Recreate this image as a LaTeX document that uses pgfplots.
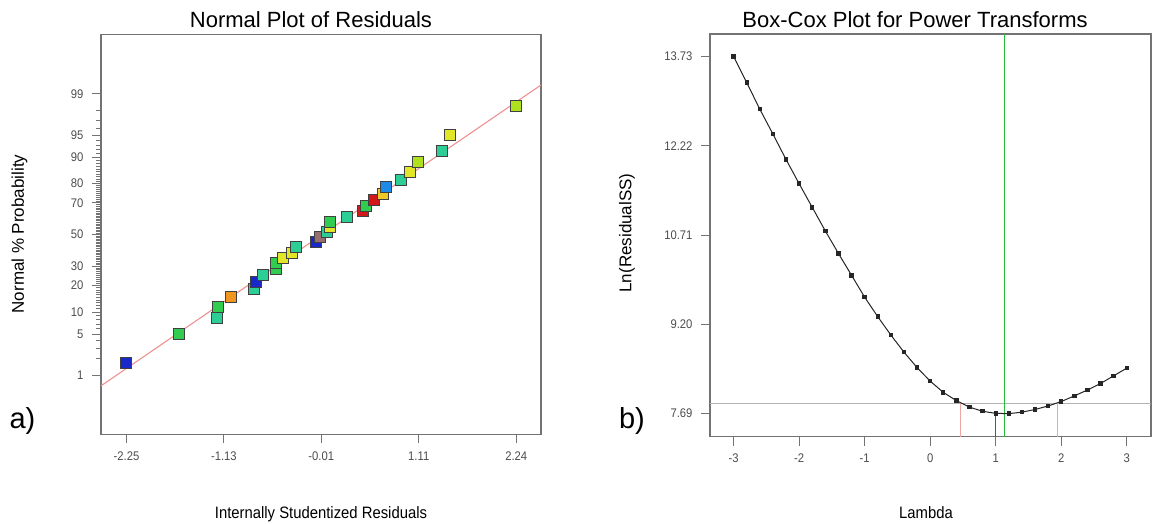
\documentclass[border=0pt]{standalone}
\usepackage{pgfplots}
\usepackage{pgfplotstable}
\pgfplotsset{compat=1.18}
\usepackage{fontspec}
\setmainfont{Liberation Sans}
\newfontfamily\narrowfont[FakeStretch=0.9]{Liberation Sans}

\definecolor{cNv}{RGB}{25,40,200}
\definecolor{cGr}{RGB}{50,205,80}
\definecolor{cTl}{RGB}{45,205,150}
\definecolor{cYe}{RGB}{225,230,40}
\definecolor{cYg}{RGB}{175,225,30}
\definecolor{cOr}{RGB}{240,150,30}
\definecolor{cGo}{RGB}{240,200,40}
\definecolor{cRd}{RGB}{210,25,25}
\definecolor{cLb}{RGB}{30,140,230}
\definecolor{cBr}{RGB}{150,110,110}
\definecolor{fitline}{RGB}{238,145,145}
\definecolor{frameg}{RGB}{115,115,115}
\definecolor{pinkl}{RGB}{240,165,165}
\definecolor{bluel}{RGB}{70,70,225}
\definecolor{greenl}{RGB}{40,190,60}

\pgfplotstableread{
x z c
-2.250 -2.128 nv
-1.642 -1.645 gr
-1.206 -1.383 tl
-1.186 -1.192 gr
-1.038 -1.036 or
-0.779 -0.903 tl
-0.759 -0.783 nv
-0.668 -0.674 tl
-0.529 -0.573 gr
-0.529 -0.477 gr
-0.446 -0.385 ye
-0.340 -0.297 ye
-0.294 -0.210 tl
-0.064 -0.126 nv
-0.019 -0.042 br
0.059 0.042 tl
0.092 0.126 ye
0.092 0.210 gr
0.289 0.297 tl
0.482 0.385 rd
0.507 0.477 gr
0.605 0.573 rd
0.704 0.674 go
0.737 0.783 lb
0.918 0.903 tl
1.016 1.036 ye
1.111 1.192 yg
1.386 1.383 tl
1.477 1.645 ye
2.233 2.128 yg
}\resid

\pgfplotstableread{
lambda lnrss
-3.0 13.73
-2.8 13.29
-2.6 12.84
-2.4 12.42
-2.2 11.99
-2.0 11.58
-1.8 11.18
-1.6 10.78
-1.4 10.40
-1.2 10.03
-1.0 9.66
-0.8 9.33
-0.6 9.02
-0.4 8.73
-0.2 8.47
0.0 8.24
0.2 8.05
0.4 7.91
0.6 7.80
0.8 7.73
1.0 7.695
1.2 7.69
1.4 7.715
1.6 7.76
1.8 7.82
2.0 7.895
2.2 7.99
2.4 8.09
2.6 8.20
2.8 8.33
3.0 8.46
}\boxcox

\pgfplotsset{
  myaxis/.style={
    scale only axis,
    anchor=south west,
    axis line style={frameg, line width=1.4pt},
    tick align=outside,
    xtick pos=left, ytick pos=left,
    major tick length=9pt,
    minor tick length=5pt,
    every major tick/.style={frameg, line width=1pt},
    every minor tick/.style={frameg, line width=0.8pt},
    ticklabel style={font=\narrowfont\fontsize{12.5}{13}\selectfont, text=black!70},
    xticklabel style={yshift=-5pt},
    yticklabel style={xshift=-5pt},
  }
}

\begin{document}
\begin{tikzpicture}
\path[use as bounding box] (0pt,0pt) rectangle (1156pt,523pt);

% ---------- Left: normal plot ----------
\begin{axis}[myaxis,
  at={(101pt,88.7pt)}, width=440pt, height=400pt,
  xmin=-2.538, xmax=2.526, ymin=-3.30, ymax=3.31,
  xtick={-2.245,-1.124,-0.0025,1.119,2.241},
  xticklabels={-2.25,-1.13,-0.01,1.11,2.24},
  ytick={-2.3263,-1.6449,-1.2816,-0.8416,-0.5244,0,0.5244,0.8416,1.2816,1.6449,2.3263},
  yticklabels={1,5,10,20,30,50,70,80,90,95,99},
  minor ytick={-2.0537,-1.8808,-1.7507,-1.5548,-1.4758,-1.4051,-1.3408,
    -1.2265,-1.1750,-1.1264,-1.0803,-1.0364,-0.9945,-0.9542,-0.9154,-0.8779,
    -0.8064,-0.7722,-0.7388,-0.7063,-0.6745,-0.6433,-0.6128,-0.5828,-0.5534,
    -0.4959,-0.4677,-0.4399,-0.4125,-0.3853,-0.3585,-0.3319,-0.3055,-0.2793,-0.2533,
    -0.2275,-0.2019,-0.1764,-0.1510,-0.1257,-0.1004,-0.0753,-0.0502,-0.0251,
    0.0251,0.0502,0.0753,0.1004,0.1257,0.1510,0.1764,0.2019,0.2275,0.2533,
    0.2793,0.3055,0.3319,0.3585,0.3853,0.4125,0.4399,0.4677,0.4959,
    0.5534,0.5828,0.6128,0.6433,0.6745,0.7063,0.7388,0.7722,0.8064,
    0.8779,0.9154,0.9542,0.9945,1.0364,1.0803,1.1264,1.1750,1.2265,
    1.3408,1.4051,1.4758,1.5548,1.7507,1.8808,2.0537},
]
\addplot[fitline, line width=1.1pt] coordinates {(-2.538,-2.499) (2.526,2.472)};
\addplot[scatter, only marks, scatter src=explicit symbolic,
  scatter/classes={
    nv={mark=square*, mark size=5.5pt, draw=black!75, fill=cNv},
    gr={mark=square*, mark size=5.5pt, draw=black!75, fill=cGr},
    tl={mark=square*, mark size=5.5pt, draw=black!75, fill=cTl},
    ye={mark=square*, mark size=5.5pt, draw=black!75, fill=cYe},
    yg={mark=square*, mark size=5.5pt, draw=black!75, fill=cYg},
    or={mark=square*, mark size=5.5pt, draw=black!75, fill=cOr},
    go={mark=square*, mark size=5.5pt, draw=black!75, fill=cGo},
    rd={mark=square*, mark size=5.5pt, draw=black!75, fill=cRd},
    lb={mark=square*, mark size=5.5pt, draw=black!75, fill=cLb},
    br={mark=square*, mark size=5.5pt, draw=black!75, fill=cBr}},
  mark options={line width=1pt}]
  table[x=x, y=z, meta=c] {\resid};
\end{axis}

% ---------- Right: Box-Cox ----------
\begin{axis}[myaxis,
  at={(710pt,86.3pt)}, width=441pt, height=402.6pt,
  xmin=-3.36, xmax=3.37, ymin=7.30, ymax=14.11,
  xtick={-3,-2,-1,0,1,2,3},
  xticklabels={-3,-2,-1,0,1,2,3},
  ytick={7.69,9.20,10.71,12.22,13.73},
  yticklabels={7.69,9.20,10.71,12.22,13.73},
]
\addplot[black!30, line width=0.8pt] coordinates {(-3.36,7.865) (3.37,7.865)};
\addplot[pinkl, line width=1pt] coordinates {(0.465,7.30) (0.465,7.865)};
\addplot[pinkl, line width=1pt] coordinates {(1.946,7.30) (1.946,7.865)};
\addplot[bluel, line width=1.2pt] coordinates {(1.0,7.30) (1.0,7.695)};
\addplot[greenl, line width=1.2pt] coordinates {(1.13,7.30) (1.13,14.11)};
\addplot[black!85, line width=1pt, mark=square*, mark size=1.7pt,
  mark options={fill=black!85, draw=black!85}]
  table[x=lambda, y=lnrss] {\boxcox};
\end{axis}

% ---------- texts ----------
\node[anchor=base, font=\fontsize{22}{24}\selectfont] at (311pt,495pt) {Normal Plot of Residuals};
\node[anchor=base, font=\fontsize{22}{24}\selectfont] at (915pt,495pt) {Box-Cox Plot for Power Transforms};
\node[anchor=base, font=\narrowfont\fontsize{16.5}{18}\selectfont] at (321pt,4.7pt) {Internally Studentized Residuals};
\node[anchor=base, font=\narrowfont\fontsize{16.5}{18}\selectfont] at (926pt,4.7pt) {Lambda};
\node[rotate=90, font=\fontsize{17}{18}\selectfont] at (19.6pt,289pt) {Normal \% Probability};
\node[rotate=90, font=\fontsize{17}{18}\selectfont] at (627pt,290pt) {Ln(ResidualSS)};
\node[font=\fontsize{29}{32}\selectfont] at (22.5pt,102pt) {a)};
\node[font=\fontsize{29}{32}\selectfont] at (632pt,102pt) {b)};
\end{tikzpicture}
\end{document}
